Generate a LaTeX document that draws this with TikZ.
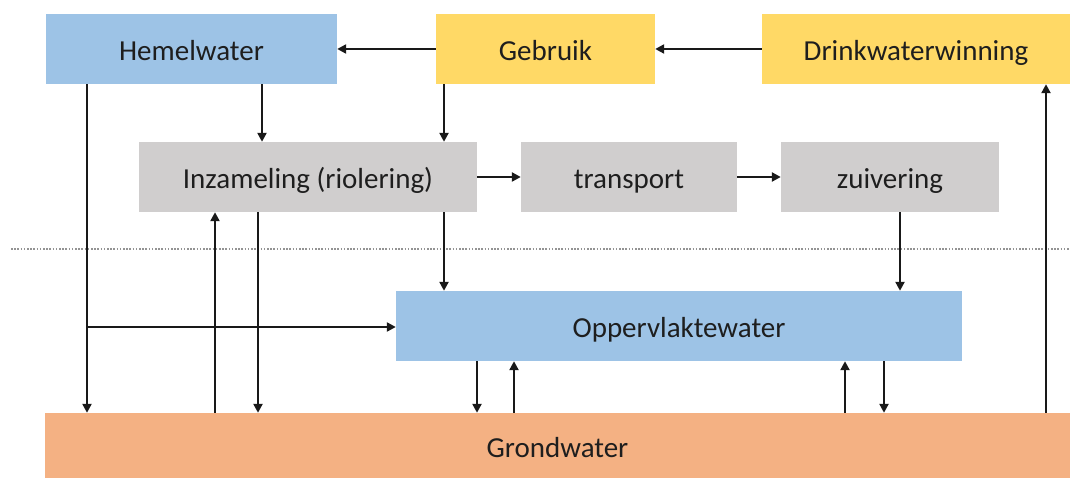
\documentclass[tikz,border=0pt]{standalone}
\usepackage{fontspec}
\setmainfont{Carlito}
\usetikzlibrary{arrows.meta}
\definecolor{cblue}{HTML}{9DC3E6}
\definecolor{cyellow}{HTML}{FFD966}
\definecolor{cgray}{HTML}{D0CECE}
\definecolor{corange}{HTML}{F4B183}
\definecolor{ctext}{HTML}{1E1E1E}
\begin{document}
\begin{tikzpicture}[x=1pt,y=-1pt,
  box/.style={rectangle, draw=none, minimum height=70pt, inner sep=0pt, text height=23pt, text depth=0pt, font=\fontsize{29}{34}\selectfont, text=ctext},
  arr/.style={line width=2.4pt, draw=black!90, -{Triangle[length=9pt,width=9pt]}}]
\useasboundingbox (0,0) rectangle (1070,478);
% boxes
\node[box, fill=cblue, minimum width=291pt] (hemel) at (191.5,49) {Hemelwater};
\node[box, fill=cyellow, minimum width=219pt] (gebruik) at (545.5,49) {Gebruik};
\node[box, fill=cyellow, minimum width=308pt] (drink) at (916,49) {Drinkwaterwinning};
\node[box, fill=cgray, minimum width=338pt] (inz) at (308,177) {Inzameling (riolering)};
\node[box, fill=cgray, minimum width=216pt] (transport) at (629,177) {transport};
\node[box, fill=cgray, minimum width=218pt] (zuiv) at (890,177) {zuivering};
\node[box, fill=cblue, minimum width=566pt] (opp) at (679,326) {Oppervlaktewater};
\node[box, fill=corange, minimum width=1025pt, minimum height=65pt] (grond) at (557.5,445.5) {Grondwater};
% dotted separator
\coordinate (dl) at (11,249);
\coordinate (dr) at (1070,249);
\draw[gray!85, line width=1.6pt, dash pattern=on 1.6pt off 1.6pt] (dl) -- (dr);
% column coordinates
\coordinate (c87) at (87,0);
\coordinate (c215) at (215,0);
\coordinate (c258) at (258,0);
\coordinate (c262) at (262,0);
\coordinate (c444) at (444,0);
\coordinate (c900) at (900,0);
\coordinate (c477) at (477,0);
\coordinate (c514) at (514,0);
\coordinate (c845) at (845,0);
\coordinate (c884) at (884,0);
\coordinate (c1046) at (1046,0);
\coordinate (branch) at (87,327);
% horizontal arrows
\draw[arr] (gebruik.west) -- (hemel.east);
\draw[arr] (drink.west) -- (gebruik.east);
\draw[arr] (inz.east) -- (transport.west);
\draw[arr] (transport.east) -- (zuiv.west);
% vertical arrows
\draw[arr] (c262 |- hemel.south) -- (c262 |- inz.north);
\draw[arr] (c444 |- gebruik.south) -- (c444 |- inz.north);
\draw[arr] (c87 |- hemel.south) -- (c87 |- grond.north);
\draw[arr] (branch) -- (branch -| opp.west);
\draw[arr] (c215 |- grond.north) -- (c215 |- inz.south);
\draw[arr] (c258 |- inz.south) -- (c258 |- grond.north);
\draw[arr] (c444 |- inz.south) -- (c444 |- opp.north);
\draw[arr] (c900 |- zuiv.south) -- (c900 |- opp.north);
\draw[arr] (c477 |- opp.south) -- (c477 |- grond.north);
\draw[arr] (c514 |- grond.north) -- (c514 |- opp.south);
\draw[arr] (c845 |- grond.north) -- (c845 |- opp.south);
\draw[arr] (c884 |- opp.south) -- (c884 |- grond.north);
\draw[arr] (c1046 |- grond.north) -- (c1046 |- drink.south);
\end{tikzpicture}
\end{document}
